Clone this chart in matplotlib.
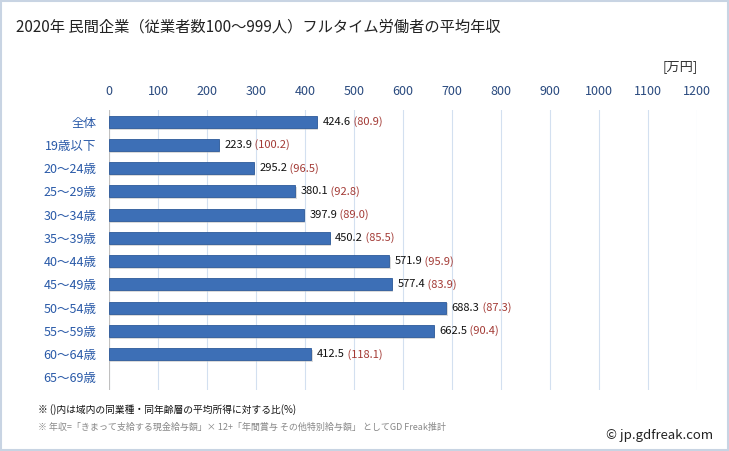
import numpy as np
import matplotlib.pyplot as plt
from matplotlib.patches import Rectangle

plt.rcParams['font.family'] = ['Noto Sans CJK JP', 'DejaVu Sans']

categories = ['全体', '19歳以下', '20～24歳', '25～29歳', '30～34歳', '35～39歳',
              '40～44歳', '45～49歳', '50～54歳', '55～59歳', '60～64歳', '65～69歳']
salary = [424.6, 223.9, 295.2, 380.1, 397.9, 450.2, 571.9, 577.4, 688.3, 662.5, 412.5, np.nan]
ratio = [80.9, 100.2, 96.5, 92.8, 89.0, 85.5, 95.9, 83.9, 87.3, 90.4, 118.1, np.nan]
xticks = list(range(0, 1201, 100))

fig = plt.figure(figsize=(7.29, 4.51), dpi=100)
fig.patches.append(Rectangle((0.002, 0.002), 0.996, 0.996, transform=fig.transFigure,
                             fill=False, edgecolor='#c8d4e3', linewidth=1.5))

ax = fig.add_axes([0.1495, 0.135, 0.8065, 0.621])
y = np.arange(len(categories))
# 影
ax.barh(y + 0.08, salary, height=0.52, left=3, color='#b8b8b8', alpha=0.5, zorder=2)
ax.barh(y, salary, height=0.52, color='#3d6fb6', edgecolor='#2d5a9a', linewidth=0.6, zorder=3)

for i in range(len(categories)):
    if np.isnan(salary[i]):
        continue
    t = ax.annotate('%.1f' % salary[i], (salary[i], i), xytext=(4, 0),
                    textcoords='offset points', va='center', ha='left',
                    fontsize=8, color='#111111')
    ax.annotate(' (%.1f)' % ratio[i], (1, 0.5), xycoords=t, va='center', ha='left',
                fontsize=8, color='#a33a35')

ax.set_xlim(0, 1200)
ax.set_ylim(11.55, -0.5)
ax.set_xticks(xticks)
ax.xaxis.tick_top()
ax.tick_params(axis='x', length=0, pad=9, labelsize=9, labelcolor='#2a4a7f')
ax.set_yticks(y)
ax.set_yticklabels(categories)
ax.tick_params(axis='y', length=0, pad=9, labelsize=9, labelcolor='#2a5aa8')
ax.grid(axis='x', color='#d3e0f0', linewidth=0.8, zorder=0)
ax.set_axisbelow(True)
for s in ax.spines.values():
    s.set_visible(False)
ax.axvline(0, color='#c0c0c0', linewidth=0.8, zorder=1)

fig.text(0.022, 0.94, '2020年 民間企業（従業者数100～999人）フルタイム労働者の平均年収',
         fontsize=11, color='#222222', va='center')
fig.text(0.957, 0.853, '[万円]', fontsize=9.5, color='#333333', ha='right', va='center')
fig.text(0.052, 0.093, '※ ()内は域内の同業種・同年齢層の平均所得に対する比(%)',
         fontsize=7, color='#111111', va='center')
fig.text(0.052, 0.053, '※ 年収=「きまって支給する現金給与額」× 12+「年間賞与 その他特別給与額」 としてGD Freak推計',
         fontsize=6.5, color='#888888', va='center')
fig.text(0.978, 0.035, '© jp.gdfreak.com', fontsize=9.5, color='#222222', ha='right', va='center')

fig.savefig('out.png', dpi=100)
